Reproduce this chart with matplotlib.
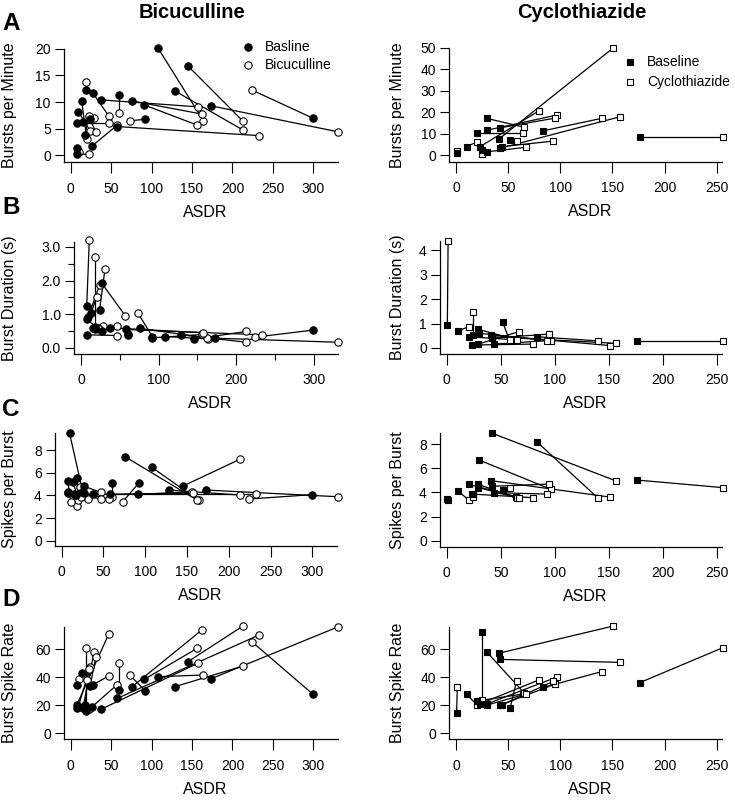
import matplotlib
matplotlib.use('Agg')
import matplotlib.pyplot as plt
from matplotlib.lines import Line2D
from matplotlib.ticker import FormatStrFormatter

plt.rcParams['font.family'] = ['Liberation Sans', 'DejaVu Sans']

W, H = 735, 801

# ---------------- Bicuculline (one entry per cell) ----------------
bic_base_asdr = [108, 145, 129, 173, 299, 92, 60, 76, 91, 37.5, 57.6, 27, 18.5, 13.5, 9.4, 7.4, 15, 24, 17.7, 26.7, 7.4, 7.4]
bic_drug_asdr = [164, 213, 213, 331, 224, 73, 60, 162, 156, 157, 233, 47, 18.5, 20, 24, 47, 29, 31, 22, 57, 10.7, 23]
bic_bpm_base = [20.1, 16.75, 12.06, 9.3, 7.0, 6.75, 11.3, 10.2, 9.45, 10.4, 5.4, 11.75, 12.25, 10.2, 8.2, 6.0, 6.3, 6.75, 3.8, 1.8, 1.3, 0.25]
bic_bpm_drug = [6.5, 6.4, 4.75, 4.4, 12.25, 6.5, 7.9, 7.75, 5.7, 9.1, 3.7, 7.4, 13.7, 3.0, 4.6, 6.0, 7.0, 4.4, 7.3, 5.6, 0.7, 0.2]
bic_dur_base = [0.34, 0.26, 0.39, 0.29, 0.53, 0.34, 0.39, 0.58, 0.30, 0.60, 0.55, 0.51, 0.63, 1.05, 0.93, 0.39, 0.58, 1.13, 0.55, 1.92, 1.23, 0.86]
bic_dur_drug = [0.27, 0.49, 0.17, 0.17, 0.32, 1.05, 0.40, 0.30, 0.40, 0.45, 0.39, 0.65, 2.69, 1.52, 1.87, 0.37, 0.65, 2.35, 0.60, 0.96, 3.19, 0.55]
bic_spb_base = [6.47, 4.82, 4.47, 4.47, 4.06, 5.06, 5.12, 7.41, 4.09, 4.09, 4.09, 4.8, 5.5, 5.2, 9.5, 4.32, 4.1, 4.3, 4.0, 4.2, 5.26, 4.2]
bic_spb_drug = [3.56, 7.18, 4.03, 3.88, 3.68, 3.44, 3.82, 3.59, 4.32, 4.2, 4.09, 4.26, 3.06, 3.6, 4.7, 3.68, 3.9, 3.7, 4.7, 3.68, 3.44, 3.9]
bic_rate_base = [40.3, 51, 33.2, 38.7, 28, 30.3, 30.8, 33.2, 38.4, 17.1, 24.9, 34.4, 16, 43.1, 19, 20, 18, 34, 20, 19, 34.4, 18]
bic_rate_drug = [41.5, 76.4, 47.9, 75.9, 65.2, 41.5, 50.3, 73.5, 60.4, 49.8, 70, 40.8, 60.4, 38, 47, 70.7, 58, 54, 46, 34.4, 38.5, 17]

# ---------------- Cyclothiazide (one entry per cell) ----------------
cyc_base_asdr = [0.6, 10.2, 20.4, 23, 24.6, 29.4, 42, 30, 41, 29.4, 42.2, 43.7, 51.8, 83.7, 176]
cyc_drug_asdr = [1.3, 20.4, 64.6, 79.6, 24.6, 65, 157, 96.5, 151, 67, 95, 93.3, 58.2, 139.7, 256]
cyc_bpm_base = [1.1, 3.9, 10.1, 3.9, 2.3, 17.1, 3.1, 11.6, 7.4, 1.5, 12.7, 3.9, 7.0, 11.3, 8.5]
cyc_bpm_drug = [2.0, 6.2, 10.1, 20.6, 0.3, 13, 17.8, 18.6, 50, 3.6, 17.2, 6.5, 6.5, 17.1, 8.5]
cyc_dur_base = [0.94, 0.69, 0.46, 0.12, 0.55, 0.76, 0.46, 0.6, 0.53, 0.16, 0.4, 0.16, 1.05, 0.46, 0.30]
cyc_dur_drug = [4.38, 0.87, 0.33, 0.16, 1.48, 0.33, 0.19, 0.30, 0.10, 0.67, 0.57, 0.30, 0.33, 0.29, 0.30]
cyc_spb_base = [3.42, 4.14, 4.66, 3.86, 3.9, 4.66, 8.9, 6.68, 4.97, 4.4, 4.5, 3.97, 4.2, 8.17, 5.02]
cyc_spb_drug = [3.4, 3.37, 3.64, 3.56, 3.59, 3.5, 4.94, 4.25, 3.61, 3.5, 4.69, 3.86, 4.4, 3.56, 4.39]
cyc_rate_base = [14.7, 27.7, 23, 21, 72.3, 58, 52.6, 21, 57, 20, 20, 20, 17.8, 32.7, 36]
cyc_rate_drug = [33.2, 20, 28, 38, 24, 29, 50.5, 40, 76.4, 28, 35, 37, 37.2, 43.9, 61]

ylabels = ['Bursts per Minute', 'Burst Duration (s)', 'Spikes per Burst', 'Burst Spike Rate']
col_titles = ['Bicuculline', 'Cyclothiazide']
row_letters = ['A', 'B', 'C', 'D']
legend_left = ['Basline', 'Bicuculline']
legend_right = ['Baseline', 'Cyclothiazide']

fig = plt.figure(figsize=(W / 100, H / 100), dpi=100)


def add_axes(x0, x1, ytop, ybot):
    return fig.add_axes([x0 / W, 1 - ybot / H, (x1 - x0) / W, (ybot - ytop) / H])


# pixel boxes: (left, right, top, bottom), xlim, ylim, yticks, xticks, minor
left_specs = [
    dict(box=(64, 338.3, 48.7, 162.3), xlim=(-8.3, 330.8), ylim=(-1.3, 20),
         yt=[0, 5, 10, 15, 20], xt=[0, 50, 100, 150, 200, 250, 300]),
    dict(box=(74, 338.3, 241.7, 354), xlim=(-9.0, 331.6), ylim=(-0.178, 3.15),
         yt=[0, 1, 2, 3], xt=[0, 100, 200, 300], ymin=[0.5, 1.5, 2.5], xmin=[50, 150, 250], fmt='%.1f'),
    dict(box=(55, 337.3, 433.3, 545.7), xlim=(-8.0, 329.8), ylim=(-0.44, 9.48),
         yt=[0, 2, 4, 6, 8], xt=[0, 50, 100, 150, 200, 250, 300]),
    dict(box=(64, 338.3, 626.7, 739.3), xlim=(-8.3, 330.8), ylim=(-4.3, 75.9),
         yt=[0, 20, 40, 60], xt=[0, 50, 100, 150, 200, 250, 300]),
]
right_specs = [
    dict(box=(449.3, 722.3, 47.7, 161.7), xlim=(-6.4, 255.3), ylim=(-3.1, 50),
         yt=[0, 10, 20, 30, 40, 50], xt=[0, 50, 100, 150, 200, 250]),
    dict(box=(440, 722.3, 240.7, 354), xlim=(-6.2, 255.2), ylim=(-0.245, 4.38),
         yt=[0, 1, 2, 3, 4], xt=[0, 50, 100, 150, 200, 250]),
    dict(box=(440, 722.3, 433.3, 546.7), xlim=(-6.2, 255.2), ylim=(-0.5, 8.89),
         yt=[0, 2, 4, 6, 8], xt=[0, 50, 100, 150, 200, 250]),
    dict(box=(449.3, 722.3, 626.7, 739.3), xlim=(-6.4, 255.3), ylim=(-4.3, 75.9),
         yt=[0, 20, 40, 60], xt=[0, 50, 100, 150, 200, 250]),
]

bic_y = [(bic_bpm_base, bic_bpm_drug), (bic_dur_base, bic_dur_drug),
         (bic_spb_base, bic_spb_drug), (bic_rate_base, bic_rate_drug)]
cyc_y = [(cyc_bpm_base, cyc_bpm_drug), (cyc_dur_base, cyc_dur_drug),
         (cyc_spb_base, cyc_spb_drug), (cyc_rate_base, cyc_rate_drug)]

LW = 0.9


def style_axes(ax, spec):
    ax.set_xlim(*spec['xlim'])
    ax.set_ylim(*spec['ylim'])
    for s in ['top', 'right']:
        ax.spines[s].set_visible(False)
    for s in ['left', 'bottom']:
        ax.spines[s].set_linewidth(LW)
    ax.set_xticks(spec['xt'])
    ax.set_yticks(spec['yt'])
    if 'xmin' in spec:
        ax.set_xticks(spec['xmin'], minor=True)
    if 'ymin' in spec:
        ax.set_yticks(spec['ymin'], minor=True)
    if 'fmt' in spec:
        ax.yaxis.set_major_formatter(FormatStrFormatter(spec['fmt']))
    ax.tick_params(axis='x', which='major', direction='out', length=8, width=0.8, pad=6, labelsize=10)
    ax.tick_params(axis='y', which='major', direction='out', length=6.5, width=0.8, pad=3, labelsize=10)
    ax.tick_params(axis='x', which='minor', direction='out', length=4.3, width=0.8)
    ax.tick_params(axis='y', which='minor', direction='out', length=4, width=0.8)
    ax.patch.set_alpha(0)


def draw_pairs(ax, bx, by, dx, dy, marker, ms):
    for i in range(len(bx)):
        ax.plot([bx[i], dx[i]], [by[i], dy[i]], color='black', lw=LW, zorder=2, clip_on=False)
    ax.plot(dx, dy, ls='none', marker=marker, ms=ms, mfc='white', mec='black', mew=0.8,
            zorder=3, clip_on=False)
    ax.plot(bx, by, ls='none', marker=marker, ms=ms, mfc='black', mec='black', mew=0.8,
            zorder=4, clip_on=False)


for r in range(4):
    # left column
    spec = left_specs[r]
    ax = add_axes(*spec['box'])
    style_axes(ax, spec)
    draw_pairs(ax, bic_base_asdr, bic_y[r][0], bic_drug_asdr, bic_y[r][1], 'o', 5.3)
    x0, x1, yt, yb = spec['box']
    fig.text(9.5 / W, 1 - ((yt + yb) / 2) / H, ylabels[r], rotation=90, ha='center', va='center', fontsize=11.5)
    fig.text(((x0 + x1) / 2 + 4) / W, 1 - (yb + 50) / H, 'ASDR', ha='center', va='center', fontsize=11.5)

    # right column
    spec = right_specs[r]
    ax = add_axes(*spec['box'])
    style_axes(ax, spec)
    draw_pairs(ax, cyc_base_asdr, cyc_y[r][0], cyc_drug_asdr, cyc_y[r][1], 's', 4.8)
    x0, x1, yt, yb = spec['box']
    fig.text(397.5 / W, 1 - ((yt + yb) / 2) / H, ylabels[r], rotation=90, ha='center', va='center', fontsize=11.5)
    fig.text(((x0 + x1) / 2 + 4) / W, 1 - (yb + 50) / H, 'ASDR', ha='center', va='center', fontsize=11.5)

# column titles
fig.text(192 / W, 1 - 12 / H, col_titles[0], ha='center', va='center', fontsize=14.5, fontweight='bold')
fig.text(582 / W, 1 - 12.5 / H, col_titles[1], ha='center', va='center', fontsize=14.5, fontweight='bold')

# row letters
for letter, yc in zip(row_letters, [24, 207, 410, 600]):
    fig.text(11 / W, 1 - yc / H, letter, ha='center', va='center', fontsize=17.5, fontweight='bold')

# legends
for (mx, my, face, mk, ms, label) in [
        (248, 47, 'black', 'o', 5.3, legend_left[0]),
        (248, 65, 'white', 'o', 5.3, legend_left[1]),
        (630, 62, 'black', 's', 4.8, legend_right[0]),
        (630, 82, 'white', 's', 4.8, legend_right[1])]:
    fig.add_artist(Line2D([mx / W], [1 - my / H], transform=fig.transFigure, ls='none', marker=mk,
                          ms=ms, mfc=face, mec='black', mew=0.8))
    fig.text((mx + 17) / W, 1 - my / H, label, ha='left', va='center', fontsize=10)

fig.savefig('out.png', dpi=100)
